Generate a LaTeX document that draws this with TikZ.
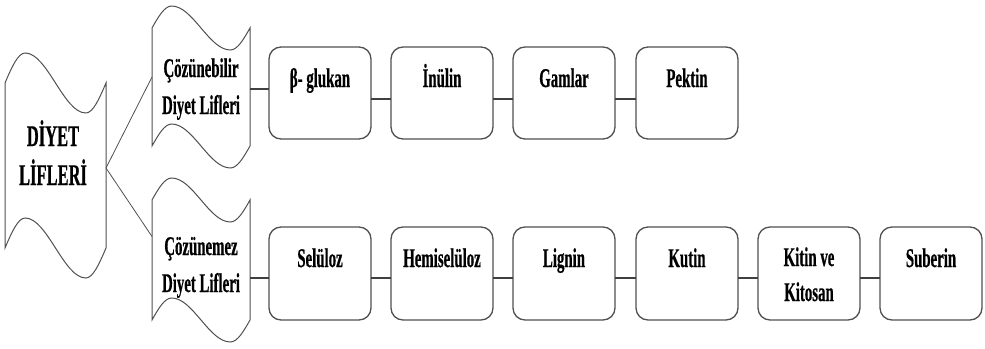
\documentclass[tikz,border=0pt]{standalone}
\usepackage{fontspec}
\setmainfont{Liberation Serif}[FakeStretch=0.55, BoldFeatures={FakeBold=0.5}]
\usetikzlibrary{calc}
\definecolor{edge}{HTML}{505050}
\definecolor{conncol}{HTML}{404040}
\tikzset{
  tapeline/.style={draw=edge, line width=1pt},
  tapearea/.style={inner sep=0pt, outer sep=0pt},
  itembox/.style={draw=edge, line width=1.3pt, rounded corners=12pt, minimum width=102pt, minimum height=92pt, inner sep=0pt, outer sep=0pt},
  itemtext/.style={font=\bfseries\fontsize{27}{35}\selectfont, align=center, inner sep=0pt, anchor=base},
  subtext/.style={font=\bfseries\fontsize{27}{37}\selectfont, align=center, inner sep=0pt, anchor=base},
  conn/.style={draw=conncol, line width=1.5pt},
  branch/.style={draw=edge, line width=0.8pt}
}
\newcommand\tapeoutline[5]{%
  \draw[tapeline] (#1,#3) sin ({#1+0.2*(#2-#1)},{#3-#5}) cos ({#1+0.5*(#2-#1)},#3)
    sin ({#1+0.8*(#2-#1)},{#3+#5}) cos (#2,#3) -- (#2,#4)
    sin ({#1+0.8*(#2-#1)},{#4+#5}) cos ({#1+0.5*(#2-#1)},#4)
    sin ({#1+0.2*(#2-#1)},{#4-#5}) cos (#1,#4) -- cycle;}
\begin{document}
\begin{tikzpicture}[x=1pt,y=-1pt]
\useasboundingbox (0,0) rectangle (985,348);
% wavy shapes
\node[tapearea, minimum width=101pt, minimum height=165pt] (diyet) at (55.5,165.5) {};
\node[tapearea, minimum width=98pt, minimum height=118pt] (coz) at (201,87) {};
\node[tapearea, minimum width=98pt, minimum height=120pt] (czm) at (201,260) {};
\tapeoutline{5}{106}{83}{248}{30}
\tapeoutline{152}{250}{28}{146}{22}
\tapeoutline{152}{250}{200}{320}{22}
\node[subtext, font=\bfseries\fontsize{30}{39}\selectfont] (diyett) at (53,185) {DİYET\\LİFLERİ};
\node[subtext] (cozt) at (201,114) {Çözünebilir\\Diyet Lifleri};
\node[subtext] (czmt) at (201,292) {Çözünemez\\Diyet Lifleri};
% boxes upper
\node[itembox] (b1) at (320,93) {};
\node[itembox] (b2) at (442,93) {};
\node[itembox] (b3) at (564,93) {};
\node[itembox] (b4) at (687,93) {};
\node[itemtext] (b1t) at ($(b1.north)+(0,40)$) {β- glukan};
\node[itemtext] (b2t) at ($(b2.north)+(0,40)$) {İnülin};
\node[itemtext] (b3t) at ($(b3.north)+(0,40)$) {Gamlar};
\node[itemtext] (b4t) at ($(b4.north)+(0,40)$) {Pektin};
% boxes lower
\node[itembox, minimum height=93pt] (c1) at (320,273.5) {};
\node[itembox, minimum height=93pt] (c2) at (442,273.5) {};
\node[itembox, minimum height=93pt] (c3) at (564,273.5) {};
\node[itembox, minimum height=93pt] (c4) at (687,273.5) {};
\node[itembox, minimum height=93pt] (c5) at (809,273.5) {};
\node[itembox, minimum height=93pt] (c6) at (931,273.5) {};
\node[itemtext] (c1t) at ($(c1.north)+(0,40)$) {Selüloz};
\node[itemtext] (c2t) at ($(c2.north)+(0,40)$) {Hemiselüloz};
\node[itemtext] (c3t) at ($(c3.north)+(0,40)$) {Lignin};
\node[itemtext] (c4t) at ($(c4.north)+(0,40)$) {Kutin};
\node[itemtext] (c5t) at ($(c5.north)+(0,74)$) {Kitin ve\\Kitosan};
\node[itemtext] (c6t) at ($(c6.north)+(0,40)$) {Suberin};
% branch lines
\draw[branch] ($(diyet.east)+(0,2.5)$) -- ($(coz.west)+(0,-10)$);
\draw[branch] ($(diyet.east)+(0,2.5)$) -- ($(czm.west)+(0,-23.5)$);
% connectors
\coordinate (b1w) at ($(b1.west)+(0,-4)$);
\coordinate (c1w) at ($(c1.west)+(0,4.5)$);
\draw[conn] (coz.east |- b1w) -- (b1w);
\draw[conn] (czm.east |- c1w) -- (c1w);
\foreach \a/\b in {b1/b2,b2/b3,b3/b4}
  \draw[conn] ($(\a.east)+(0,6)$) -- ($(\b.west)+(0,6)$);
\foreach \a/\b in {c1/c2,c2/c3,c3/c4,c4/c5,c5/c6}
  \draw[conn] ($(\a.east)+(0,4.5)$) -- ($(\b.west)+(0,4.5)$);
\end{tikzpicture}
\end{document}
